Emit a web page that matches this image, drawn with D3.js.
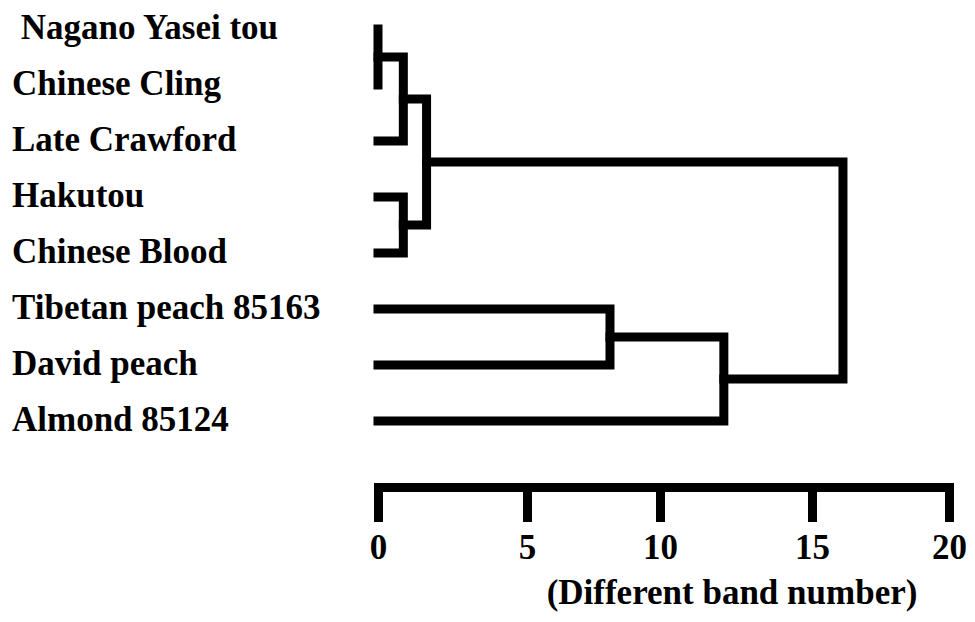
<!DOCTYPE html>
<html>
<head>
<meta charset="utf-8">
<script src="https://cdn.jsdelivr.net/npm/d3@7"></script>
<style>
  html, body { margin: 0; padding: 0; background: #fff; }
  svg { display: block; }
  text { font-family: "Liberation Serif", "Times New Roman", serif; font-weight: bold; fill: #000; }
</style>
</head>
<body>
<svg id="chart" width="975" height="622"></svg>
<script>
// Cultivars, top to bottom
const leaves = [" Nagano Yasei tou", "Chinese Cling", "Late Crawford", "Hakutou",
                "Chinese Blood", "Tibetan peach 85163", "David peach", "Almond 85124"];

// Clustering steps: ids 0–7 are the leaves, 8 onward are the clusters in order of creation
const mergeFirst  = [0, 8, 3, 9, 5, 12, 11];
const mergeSecond = [1, 2, 4, 10, 6, 7, 13];
const mergeHeight = [0, 0.85, 0.85, 1.63, 8.12, 12.1, 16.13];

// Distance axis
const tickValues = [0, 5, 10, 15, 20];
const axisTitle = "(Different band number)";

const svg = d3.select("#chart");
const lineWidth = 9;

// The printed scale is slightly uneven, so the axis is piecewise linear
const x = d3.scaleLinear().domain(tickValues).range([378, 527, 660, 812, 949]);
const y = d3.scalePoint().domain(leaves).range([29, 421]);

// Build the node list: leaves first, then each merged cluster
const nodes = leaves.map(name => ({ name, h: 0, y: y(name) }));
mergeFirst.forEach((a, i) => {
  const A = nodes[a], B = nodes[mergeSecond[i]];
  nodes.push({ h: mergeHeight[i], y: (A.y + B.y) / 2, children: [A, B] });
});

// Elbow connectors
const g = svg.append("g")
  .attr("fill", "none")
  .attr("stroke", "#000")
  .attr("stroke-width", lineWidth)
  .attr("stroke-linecap", "square")
  .attr("stroke-linejoin", "miter");

g.selectAll("path")
  .data(nodes.filter(n => n.children))
  .join("path")
  .attr("d", n => {
    const [a, b] = n.children;
    return `M${x(a.h)},${a.y}H${x(n.h)}V${b.y}H${x(b.h)}`;
  });

// Leaf labels
svg.append("g")
  .selectAll("text")
  .data(leaves)
  .join("text")
  .attr("x", 12)
  .attr("y", d => y(d) + 10)
  .style("white-space", "pre")
  .attr("font-size", 35)
  .text(d => d);

// Axis
const axisY = 487;
const axis = d3.axisBottom(x)
  .tickValues(tickValues)
  .tickSize(35)
  .tickSizeOuter(35)
  .tickPadding(12)
  .tickFormat(d3.format("d"));

const ax = svg.append("g")
  .attr("transform", `translate(0,${axisY})`)
  .call(axis);

ax.select(".domain")
  .attr("stroke", "#000")
  .attr("stroke-width", lineWidth)
  .attr("stroke-linejoin", "miter");
ax.selectAll(".tick line")
  .attr("stroke", "#000")
  .attr("stroke-width", lineWidth);
ax.selectAll(".tick text")
  .attr("fill", "#000")
  .attr("font-family", "Liberation Serif, Times New Roman, serif")
  .attr("font-weight", "bold")
  .attr("font-size", 35);

svg.append("text")
  .attr("x", 732)
  .attr("y", 604)
  .attr("text-anchor", "middle")
  .attr("font-size", 35)
  .text(axisTitle);
</script>
</body>
</html>
